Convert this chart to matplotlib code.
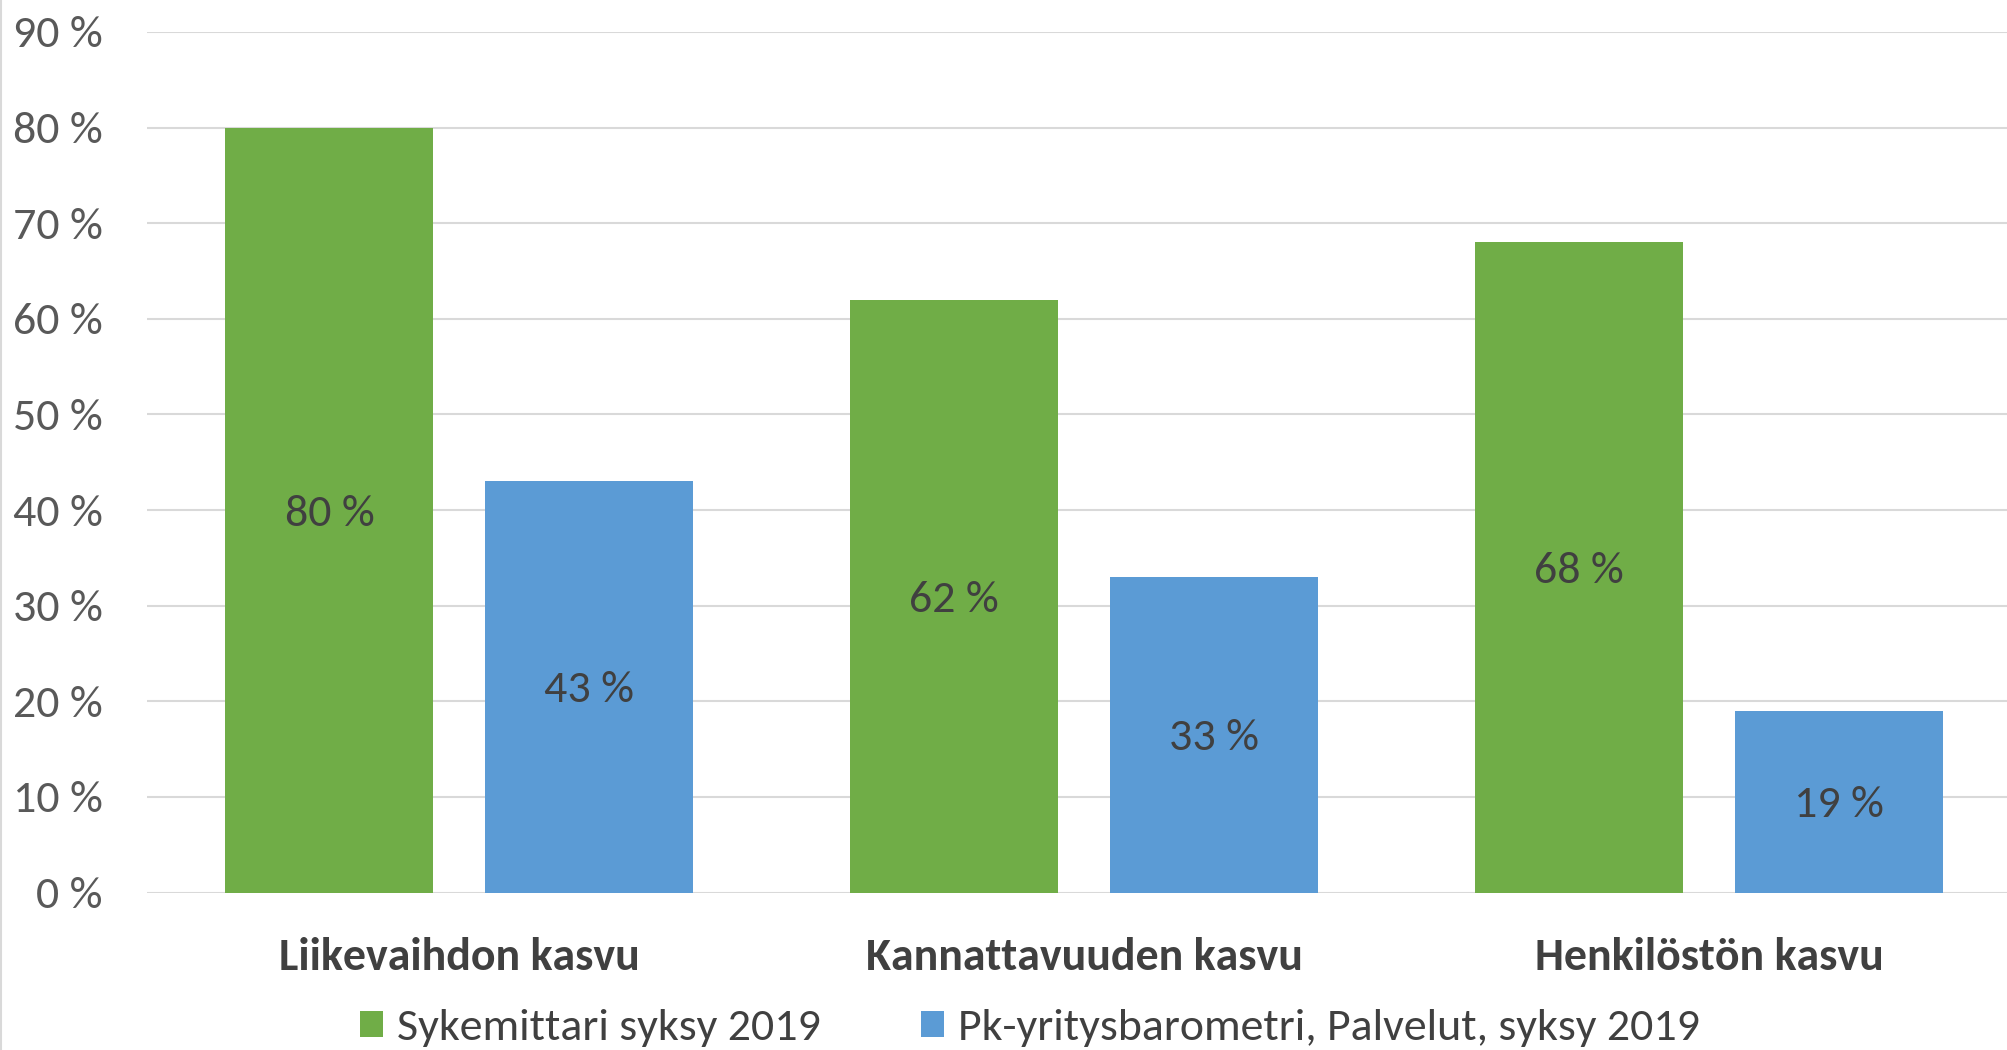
import matplotlib
matplotlib.use("Agg")
import matplotlib.pyplot as plt
from matplotlib.lines import Line2D
from matplotlib.patches import Patch
import numpy as np

categories = ["Liikevaihdon kasvu", "Kannattavuuden kasvu", "Henkilöstön kasvu"]
series_names = ["Sykemittari syksy 2019", "Pk-yritysbarometri, Palvelut, syksy 2019"]
sykemittari = [80, 62, 68]
barometri = [43, 33, 19]
yticks = [0, 10, 20, 30, 40, 50, 60, 70, 80, 90]
ytick_labels = [f"{v} %" for v in yticks]

GREEN = "#70AD47"
BLUE = "#5B9BD5"
FONT = ["Carlito", "Lato", "DejaVu Sans"]
plt.rcParams["font.family"] = FONT

W, H = 2008, 1050
fig = plt.figure(figsize=(W / 100, H / 100), dpi=100)
left, right = 147, 2021.5
top, bottom = 32, 892.5
ax = fig.add_axes([left / W, 1 - bottom / H, (right - left) / W, (bottom - top) / H])

x = np.arange(len(categories))
off = 0.208
w = 0.333
b1 = ax.bar(x - off, sykemittari, width=w, color=GREEN, zorder=3)
b2 = ax.bar(x + off, barometri, width=w, color=BLUE, zorder=3)

for bars, vals in ((b1, sykemittari), (b2, barometri)):
    for rect, v in zip(bars, vals):
        ax.text(rect.get_x() + rect.get_width() / 2, v / 2, f"{v} %",
                ha="center", va="center_baseline", fontsize=33, color="#404040", zorder=4)

ax.set_xlim(-0.5, len(categories) - 0.5)
ax.set_ylim(0, 90)
ax.set_yticks(yticks)
ax.set_yticklabels(ytick_labels, fontsize=33, color="#595959")
ax.set_xticks(x)
ax.set_xticklabels(categories, fontsize=33, fontweight="bold", color="#404040")
ax.tick_params(axis="y", length=0, pad=32)
ax.tick_params(axis="x", length=0, pad=32)
ax.grid(axis="y", color="#D9D9D9", linewidth=1.5, zorder=0)
ax.set_axisbelow(True)
for s in ax.spines.values():
    s.set_visible(False)

handles = [Patch(facecolor=GREEN), Patch(facecolor=BLUE)]
fig.legend(handles, series_names, loc="center", bbox_to_anchor=(0.513, 0.021),
           ncol=2, frameon=False, fontsize=33, labelcolor="#404040",
           handlelength=0.5, handleheight=0.5, handletextpad=0.3, columnspacing=2.2,
           borderpad=0.0)

fig.add_artist(Line2D([0.0007, 0.0007], [0, 1], color="#D9D9D9", linewidth=1.5, transform=fig.transFigure))

fig.savefig("out.png", dpi=100)
